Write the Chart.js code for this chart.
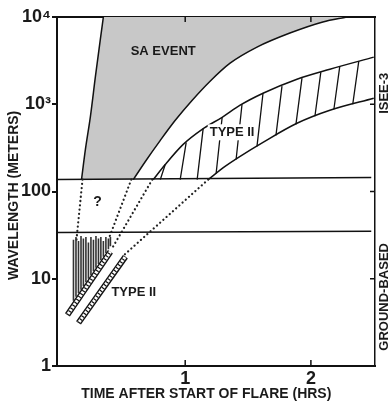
<!DOCTYPE html>
<html lang="en">
<head>
<meta charset="UTF-8" />
<title>Radio bursts after a flare</title>
<script src="https://cdn.jsdelivr.net/npm/chart.js"></script>
<style>
  html, body { margin: 0; padding: 0; background: #fff; }
  canvas { display: block; }
</style>
</head>
<body>
<canvas id="myChart" width="388" height="405"></canvas>
<script>
// axis ticks
const xTicks = [1, 2];
const xTickLabels = ['1', '2'];
const yTicks = [1, 10, 100, 1000, 10000];
const yTickLabels = ['1', '10', '100', '10³', '10⁴'];
const rightTicks = [10, 100, 1000];

// SA event region (hours, metres)
const saLeftX = [0.175, 0.206, 0.246, 0.286, 0.325, 0.349];
const saLeftY = [137, 304, 728, 2099, 5585, 10000];
const saRightX = [0.587, 0.683, 0.802, 0.921, 1.056, 1.198, 1.357, 1.571, 1.833, 2.095, 2.286];
const saRightY = [137, 221, 386, 655, 1112, 1837, 2958, 4519, 6546, 8770, 10000];

// type II band seen by ISEE-3
const bandTopX = [0.746, 0.841, 0.984, 1.135, 1.294, 1.437, 1.619, 1.889, 2.151, 2.500];
const bandTopY = [137, 204, 347, 516, 709, 975, 1337, 1938, 2523, 3467];
const bandBotX = [1.183, 1.317, 1.437, 1.619, 1.889, 2.151, 2.500];
const bandBotY = [137, 194, 253, 366, 605, 853, 1172];
const hatchX0 = [0.802, 0.960, 1.095, 1.246, 1.405, 1.571, 1.722, 1.881, 2.032, 2.183, 2.333];
const hatchY0 = [137, 137, 137, 161, 233, 329, 440, 589, 728, 877, 1000];
const hatchX1 = [0.841, 1.008, 1.143, 1.294, 1.452, 1.619, 1.770, 1.929, 2.079, 2.230, 2.381];
const hatchY1 = [204, 366, 530, 709, 1000, 1337, 1611, 1991, 2333, 2735, 3119];

// instrument limits
const limitX = [-0.02, 2.48];
const iseeLimitY = [137, 145];
const groundLimitY = [33.8, 35];

// dotted extrapolations
const dotX0 = [0.183, 0.571, 0.738, 1.183];
const dotY0 = [137, 137, 137, 137];
const dotX1 = [0.135, 0.389, 0.421, 0.508];
const dotY1 = [28.1, 28.1, 22.7, 18.4];

// ground based type III bursts and type II lanes
const stripeX = [0.111, 0.131, 0.151, 0.171, 0.190, 0.210, 0.230, 0.250, 0.270, 0.290, 0.310, 0.329, 0.349, 0.369, 0.389, 0.405];
const stripeTop = [28, 30, 27, 31, 29, 30, 26, 30, 28, 31, 29, 30, 27, 30, 29, 30];
const stripeBottom = [5.6, 6.2, 6.8, 7.5, 8.2, 9.1, 10.0, 11.0, 12.2, 13.4, 14.8, 16.3, 17.9, 19.7, 21.8, 23.5];
const lane1X = [0.063, 0.405];
const lane1Y = [3.86, 20.4];
const lane2X = [0.151, 0.524];
const lane2Y = [3.12, 17.9];

// text in the plot
const noteText = ['SA EVENT', 'TYPE II', 'TYPE II', '?'];
const noteX = [0.825, 1.373, 0.591, 0.302];
const noteY = [4064, 477, 6.9, 74.8];
const noteBox = [false, true, false, false];
const sideText = ['ISEE-3', 'GROUND-BASED'];
const sideY = [1337, 6.2];

const FONT = '"Liberation Sans", Arial, sans-serif';

function pts(xs, ys) {
  return xs.map((x, i) => ({ x: x, y: ys[i] }));
}
// several short segments in one dataset, split by empty points
function segs(x0, y0, x1, y1) {
  const out = [];
  x0.forEach((x, i) => {
    out.push({ x: x, y: y0[i] }, { x: x1[i], y: y1[i] }, { x: null, y: null });
  });
  return out;
}
function line(data, opts) {
  return Object.assign({
    data: data, showLine: true, pointRadius: 0, borderColor: '#111',
    borderWidth: 1.5, fill: false, tension: 0
  }, opts);
}

const saShape = pts(saLeftX, saLeftY).concat(pts(saRightX, saRightY).reverse());

const datasets = [
  line(pts(lane2X, lane2Y), { borderColor: '#111', borderWidth: 3.2, borderDash: [1.2, 2.3], order: 1 }),
  line(pts(lane2X, lane2Y), { borderColor: '#fff', borderWidth: 3.2, order: 2 }),
  line(pts(lane2X, lane2Y), { borderColor: '#111', borderWidth: 6, order: 3 }),
  line(pts(lane1X, lane1Y), { borderColor: '#111', borderWidth: 3.2, borderDash: [1.2, 2.3], order: 4 }),
  line(pts(lane1X, lane1Y), { borderColor: '#fff', borderWidth: 3.2, order: 5 }),
  line(pts(lane1X, lane1Y), { borderColor: '#111', borderWidth: 6, order: 6 }),
  line(segs(stripeX, stripeTop, stripeX, stripeBottom), { borderColor: '#333', borderWidth: 1.6, order: 7 }),
  line(segs(dotX0, dotY0, dotX1, dotY1), { borderColor: '#222', borderWidth: 2.2, borderDash: [0.1, 4.2], borderCapStyle: 'round', order: 8 }),
  line(pts(limitX, iseeLimitY), { order: 9 }),
  line(pts(limitX, groundLimitY), { order: 9 }),
  line(segs(hatchX0, hatchY0, hatchX1, hatchY1), { borderWidth: 1.3, order: 10 }),
  line(pts(bandTopX, bandTopY), { cubicInterpolationMode: 'monotone', order: 11 }),
  line(pts(bandBotX, bandBotY), { cubicInterpolationMode: 'monotone', order: 11 }),
  line(pts(saLeftX, saLeftY), { cubicInterpolationMode: 'monotone', order: 12 }),
  line(pts(saRightX, saRightY), { cubicInterpolationMode: 'monotone', order: 12 }),
  line(saShape, { borderWidth: 0, fill: 'shape', backgroundColor: '#c8c8c8', order: 13 })
];

const overlay = {
  id: 'overlay',
  afterDatasetsDraw(chart) {
    const { ctx, chartArea: a, scales: { x, y } } = chart;
    ctx.save();
    // inward tick marks on bottom, top and right
    ctx.strokeStyle = '#111';
    ctx.lineWidth = 1.5;
    ctx.beginPath();
    xTicks.forEach(v => {
      const px = x.getPixelForValue(v);
      ctx.moveTo(px, a.bottom); ctx.lineTo(px, a.bottom - 6);
      ctx.moveTo(px, a.top); ctx.lineTo(px, a.top + 5);
    });
    rightTicks.forEach(v => {
      const py = y.getPixelForValue(v);
      ctx.moveTo(a.right, py); ctx.lineTo(a.right - 5, py);
    });
    ctx.stroke();

    ctx.textAlign = 'center';
    ctx.textBaseline = 'middle';
    noteText.forEach((t, i) => {
      ctx.font = 'bold ' + (t === '?' ? 14 : 13) + 'px ' + FONT;
      const px = x.getPixelForValue(noteX[i]);
      const py = y.getPixelForValue(noteY[i]);
      if (noteBox[i]) {
        const w = ctx.measureText(t).width;
        ctx.fillStyle = '#fff';
        ctx.fillRect(px - w / 2 - 2, py - 8, w + 4, 16);
      }
      ctx.fillStyle = '#1a1a1a';
      ctx.fillText(t, px, py);
    });

    ctx.font = 'bold 13px ' + FONT;
    sideText.forEach((t, i) => {
      ctx.save();
      ctx.translate(a.right + 9, y.getPixelForValue(sideY[i]));
      ctx.rotate(-Math.PI / 2);
      ctx.fillText(t, 0, 0);
      ctx.restore();
    });
    ctx.restore();
  }
};

const config = {
  type: 'scatter',
  data: { datasets: datasets },
  options: {
    responsive: false,
    animation: false,
    layout: { padding: { top: 17, right: 13, left: 0, bottom: 0 } },
    plugins: { legend: { display: false }, tooltip: { enabled: false } },
    scales: {
      x: {
        type: 'linear', position: 'bottom', min: -0.02, max: 2.51,
        afterBuildTicks: s => { s.ticks = xTicks.map(v => ({ value: v })); },
        afterFit: s => { s.height = 39; },
        ticks: {
          autoSkip: false, maxRotation: 0, padding: 2, color: '#1a1a1a',
          font: { family: FONT, size: 18, weight: 'bold' },
          callback: v => xTickLabels[xTicks.indexOf(v)]
        },
        grid: { display: false, drawTicks: false },
        border: { display: true, color: '#111', width: 2 },
        title: {
          display: true, text: 'TIME AFTER START OF FLARE (HRS)     ', color: '#1a1a1a',
          font: { family: FONT, size: 14, weight: 'bold' }, padding: { top: 0, bottom: 2 }
        }
      },
      x2: {
        type: 'linear', position: 'top', min: -0.02, max: 2.51,
        afterFit: s => { s.height = 0; },
        ticks: { display: false },
        grid: { display: false, drawTicks: false },
        border: { display: true, color: '#111', width: 2 }
      },
      y: {
        type: 'logarithmic', position: 'left', min: 1, max: 10000,
        afterBuildTicks: s => { s.ticks = yTicks.map(v => ({ value: v, major: true })); },
        afterFit: s => { s.width = 57; },
        ticks: {
          autoSkip: false, padding: 1, color: '#1a1a1a',
          font: { family: FONT, size: 18, weight: 'bold' },
          callback: v => yTickLabels[yTicks.indexOf(v)]
        },
        grid: { drawOnChartArea: false, drawTicks: true, tickLength: 5, color: '#111', lineWidth: 2 },
        border: { display: true, color: '#111', width: 2 },
        title: {
          display: true, text: 'WAVELENGTH (METERS)  ', color: '#1a1a1a',
          font: { family: FONT, size: 14, weight: 'bold' }, padding: { top: 6, bottom: 0 }
        }
      },
      y2: {
        type: 'logarithmic', position: 'right', min: 1, max: 10000,
        afterFit: s => { s.width = 0; },
        ticks: { display: false },
        grid: { display: false, drawTicks: false },
        border: { display: true, color: '#111', width: 1.5 }
      }
    }
  },
  plugins: [overlay]
};

const myChart = new Chart(document.getElementById('myChart'), config);
</script>
</body>
</html>
